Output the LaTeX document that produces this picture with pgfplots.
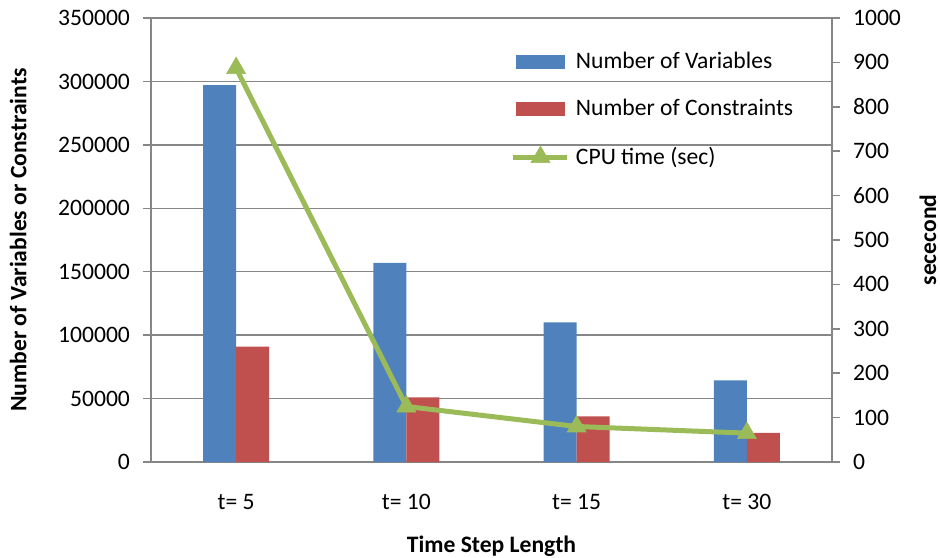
\documentclass[border=0pt]{standalone}
\usepackage{pgfplots}
\pgfplotsset{compat=1.18}
\usepackage{fontspec}
\setmainfont{Carlito}
\definecolor{varblue}{HTML}{4F81BD}
\definecolor{conred}{HTML}{C0504D}
\definecolor{cpugreen}{HTML}{9BBB59}
\definecolor{gridgray}{HTML}{868686}
\pgfplotsset{
  cpu legend/.style={legend image code/.code={%
    \draw[mark repeat=2, mark phase=2, ##1] plot coordinates {(-1.5pt,0pt) (12pt,0pt) (25.5pt,0pt)};}},
  base/.style={
    scale only axis, width=340.5pt, height=222pt,
    xmin=-0.5, xmax=3.5, ymin=0,
    font=\fontsize{11.8}{14}\selectfont,
    /pgf/number format/fixed,
    /pgf/number format/assume math mode=true,
    /pgf/number format/1000 sep={},
    axis line style={gridgray, line width=0.75pt},
    tick style={gridgray, line width=0.75pt},
    major tick length=4pt, tick align=outside,
    label style={font=\fontsize{11.8}{14}\selectfont\bfseries},
  }
}

\begin{document}
\begin{tikzpicture}
\useasboundingbox (-75.5pt,-47.5pt) rectangle (394.5pt,231pt);
% left axis: problem size as grouped bars
\begin{axis}[base,
  axis x line*=bottom, axis y line*=left,
  ymax=350000, ytick={0,50000,...,350000}, scaled y ticks=false,
  ymajorgrids, grid style={gridgray, line width=0.75pt},
  xtick={0,1,2,3}, xticklabels={t= 5,t= 10,t= 15,t= 30},
  xtick style={draw=none},
  xticklabel style={anchor=center, yshift=-16pt},
  yticklabel style={anchor=east, xshift=-3pt},
  ybar=0pt, bar width=16.5pt,
  xlabel={Time Step Length},
  xlabel style={at={(axis description cs:0.5,-0.19)}, anchor=center},
  ylabel={Number of Variables or Constraints},
  ylabel style={at={(axis description cs:-0.195,0.5)}, anchor=center},
]
\addplot[fill=varblue, draw=none] coordinates {(0,297000) (1,157000) (2,110000) (3,64400)};
\addplot[fill=conred, draw=none] coordinates {(0,91000) (1,51000) (2,36000) (3,23000)};
\end{axis}
% right axis: CPU time
\begin{axis}[base,
  axis x line=none, axis y line*=right,
  ymax=1000, ytick={0,100,...,1000},
  yticklabel style={anchor=west, xshift=3pt},
  ylabel={sececond},
  ylabel style={at={(axis description cs:1.141,0.5)}, anchor=center},
  legend style={draw=none, fill=none, inner sep=0pt, outer sep=0pt,
    at={(axis description cs:0.5286,0.932)}, anchor=north west,
    row sep=10pt, font=\fontsize{11.8}{14}\selectfont,
    nodes={inner xsep=3pt}},
  legend cell align=left,
]
\addlegendimage{legend image code/.code={\fill[varblue] (0pt,-3.25pt) rectangle (24pt,3.25pt);}}
\addlegendentry{Number of Variables}
\addlegendimage{legend image code/.code={\fill[conred] (0pt,-3.25pt) rectangle (24pt,3.25pt);}}
\addlegendentry{Number of Constraints}
\addplot[cpugreen, line width=2.5pt, mark=triangle*, mark size=5.5pt,
  mark options={line width=0.3pt, fill=cpugreen}, cpu legend]
  coordinates {(0,887) (1,125) (2,80) (3,65)};
\addlegendentry{CPU time (sec)}
\end{axis}
\end{tikzpicture}
\end{document}
